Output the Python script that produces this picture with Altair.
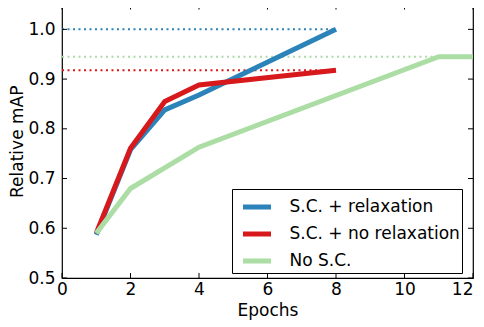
import altair as alt
import pandas as pd

series = ["S.C. + relaxation", "S.C. + no relaxation", "No S.C."]
colors = ["#2b83ba", "#d7191c", "#abdda4"]

epochs_relax = [1, 2, 3, 4, 8]
map_relax = [0.587, 0.758, 0.838, 0.868, 1.0]
epochs_norelax = [1, 2, 3, 4, 8]
map_norelax = [0.59, 0.761, 0.855, 0.888, 0.918]
epochs_nosc = [1, 2, 4, 11, 12]
map_nosc = [0.59, 0.68, 0.763, 0.945, 0.945]

ref_level = [1.0, 0.918, 0.945]
ref_end = [8, 8, 11]

x_ticks = [0, 2, 4, 6, 8, 10, 12]
y_ticks = [0.5, 0.6, 0.7, 0.8, 0.9, 1.0]

W, H = 411, 273.5
FONT = "DejaVu Sans"
FS = 17

rows = []
for name, xs, ys in [(series[0], epochs_relax, map_relax),
                     (series[1], epochs_norelax, map_norelax),
                     (series[2], epochs_nosc, map_nosc)]:
    for i, (a, b) in enumerate(zip(xs, ys)):
        rows.append({"series": name, "epoch": a, "map": b, "order": i})
df = pd.DataFrame(rows)
ref_df = pd.DataFrame({"series": series, "level": ref_level, "start": [0] * 3, "end": ref_end})
xt_df = pd.DataFrame({"t": x_ticks})
yt_df = pd.DataFrame({"t": y_ticks})

xscale = alt.Scale(domain=[0, 12], nice=False)
yscale = alt.Scale(domain=[0.5, 1.05], nice=False, zero=False)
cscale = alt.Scale(domain=series, range=colors)

refs = alt.Chart(ref_df).mark_rule(strokeWidth=2, strokeDash=[2, 3.5]).encode(
    x=alt.X("start:Q", scale=xscale),
    x2="end:Q",
    y=alt.Y("level:Q", scale=yscale),
    color=alt.Color("series:N", scale=cscale, legend=None),
)

last_x = x_ticks[-1]
lines = alt.Chart(df).mark_line(strokeWidth=5, clip=True).encode(
    x=alt.X("epoch:Q", scale=xscale, title="Epochs",
            axis=alt.Axis(values=x_ticks, ticks=False, domain=False, grid=False,
                          labelFlush=False, labelOverlap=False,
                          labelAlign=alt.condition(f"datum.value == {last_x}",
                                                   alt.value("right"), alt.value("center")),
                          labelFont=FONT, labelFontSize=FS, labelColor="black", labelPadding=3,
                          titleFont=FONT, titleFontSize=FS, titleFontWeight="normal",
                          titleColor="black", titlePadding=5)),
    y=alt.Y("map:Q", scale=yscale, title="Relative mAP",
            axis=alt.Axis(values=y_ticks, format=".1f", ticks=False, domain=False, grid=False,
                          labelFlush=False, labelOverlap=False,
                          labelFont=FONT, labelFontSize=FS, labelColor="black", labelPadding=7,
                          titleFont=FONT, titleFontSize=FS, titleFontWeight="normal",
                          titleColor="black", titlePadding=1)),
    color=alt.Color("series:N", scale=cscale, sort=series,
                    legend=alt.Legend(title=None, orient="none", legendX=170, legendY=184.5,
                                      symbolType="stroke", symbolStrokeWidth=5, symbolSize=784,
                                      symbolOffset=7,
                                      labelFont=FONT, labelFontSize=FS, labelColor="black",
                                      labelOffset=16, labelLimit=400, rowPadding=-2.5, padding=1.5,
                                      strokeColor="black", fillColor="white",
                                      cornerRadius=0)),
    order="order:Q",
)

tk = 5
xb = alt.Chart(xt_df).mark_rule(color="black").encode(
    x=alt.X("t:Q", scale=xscale), y=alt.value(H), y2=alt.value(H - tk))
xtop = alt.Chart(xt_df).mark_rule(color="black").encode(
    x=alt.X("t:Q", scale=xscale), y=alt.value(0), y2=alt.value(tk))
yl = alt.Chart(yt_df).mark_rule(color="black").encode(
    y=alt.Y("t:Q", scale=yscale), x=alt.value(0), x2=alt.value(tk))
yr = alt.Chart(yt_df).mark_rule(color="black").encode(
    y=alt.Y("t:Q", scale=yscale), x=alt.value(W), x2=alt.value(W - tk))

chart = alt.layer(refs, lines, xb, xtop, yl, yr).resolve_scale(
    color="independent"
).properties(
    width=W, height=H,
    autosize=alt.AutoSizeParams(type="none"),
    padding={"left": 54, "top": -3.5, "right": 3, "bottom": 45},
).configure_view(stroke="black", strokeWidth=1.2)

chart.save("out.html", embed_options={"renderer": "svg", "actions": False})
